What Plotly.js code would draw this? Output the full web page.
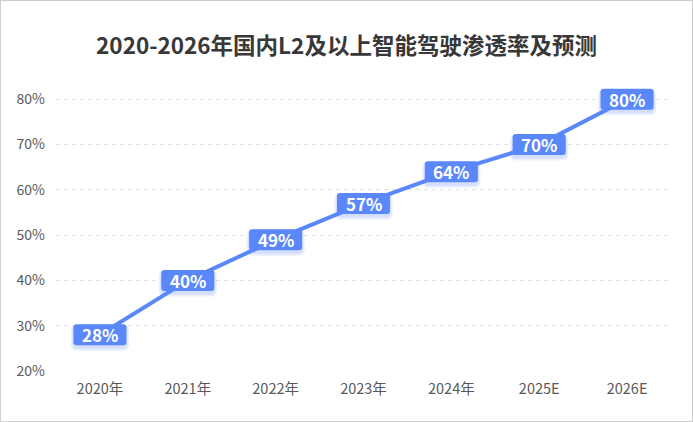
<!DOCTYPE html>
<html>
<head>
<meta charset="utf-8">
<script src="https://cdn.plot.ly/plotly-3.0.1.min.js"></script>
<style>
html,body{margin:0;padding:0;background:#fff;}
#chart{width:691px;height:420px;border:1px solid #cfcfcf;}
</style>
</head>
<body>
<div id="chart"></div>
<script>
const categories = ["2020年","2021年","2022年","2023年","2024年","2025E","2026E"];
const values = [28, 40, 49, 57, 64, 70, 80];
const yTickVals = [20, 30, 40, 50, 60, 70, 80];
const yTickText = ["20%","30%","40%","50%","60%","70%","80%"];
const titleText = "2020-2026年国内L2及以上智能驾驶渗透率及预测";

const blue = "#5a87fa";
const font = "'Noto Sans CJK SC', 'Noto Sans', sans-serif";

function roundRect(w, h, r, dy) {
  const x0 = -w/2, x1 = w/2, y0 = -h/2 + dy, y1 = h/2 + dy;
  return `M ${x0+r},${y0} L ${x1-r},${y0} Q ${x1},${y0} ${x1},${y0+r} L ${x1},${y1-r} Q ${x1},${y1} ${x1-r},${y1} L ${x0+r},${y1} Q ${x0},${y1} ${x0},${y1-r} L ${x0},${y0+r} Q ${x0},${y0} ${x0+r},${y0} Z`;
}

const shapes = [];
const annotations = [];
categories.forEach((c, i) => {
  shapes.push({type:'path', layer:'above', xref:'x', yref:'y', xsizemode:'pixel', ysizemode:'pixel',
    xanchor:c, yanchor:values[i], path: roundRect(58, 26, 6, -3),
    fillcolor:'rgba(90,135,250,0.13)', line:{width:0}});
  shapes.push({type:'path', layer:'above', xref:'x', yref:'y', xsizemode:'pixel', ysizemode:'pixel',
    xanchor:c, yanchor:values[i], path: roundRect(55, 24, 5, -2),
    fillcolor:'rgba(90,135,250,0.15)', line:{width:0}});
  shapes.push({type:'path', layer:'above', xref:'x', yref:'y', xsizemode:'pixel', ysizemode:'pixel',
    xanchor:c, yanchor:values[i], path: roundRect(53, 21, 3, 0),
    fillcolor:blue, line:{width:0}});
  annotations.push({x:c, y:values[i], xref:'x', yref:'y', text: values[i] + '%', showarrow:false,
    font:{family:font, size:17, color:'#ffffff', weight:'bold'}, xanchor:'center', yanchor:'middle'});
});

const trace = {
  x: categories, y: values, type:'scatter', mode:'lines',
  line:{color:blue, width:4}, hoverinfo:'none', cliponaxis:false
};

const layout = {
  width:691, height:420,
  margin:{l:55, r:21, t:86, b:50},
  paper_bgcolor:'#ffffff', plot_bgcolor:'#ffffff',
  showlegend:false,
  title:{text:titleText, x:0.5, xanchor:'center', y:0.893, yanchor:'middle',
    font:{family:font, size:22.5, color:'#383838', weight:'bold'}},
  xaxis:{type:'category', range:[-0.5, 6.5], showgrid:false, zeroline:false, showline:false,
    ticks:'', tickfont:{family:font, size:14.5, color:'#595959'}, ticklabelstandoff:7, fixedrange:true},
  yaxis:{range:[20, 82.7], tickvals:yTickVals, ticktext:yTickText, showgrid:true, gridcolor:'#e0e0e0',
    griddash:'4px,4px', gridwidth:1, zeroline:false, showline:false, ticks:'',
    tickfont:{family:font, size:14, color:'#595959'}, ticklabelstandoff:10, fixedrange:true},
  shapes: shapes,
  annotations: annotations
};

Plotly.newPlot('chart', [trace], layout, {displayModeBar:false, staticPlot:true});
</script>
</body>
</html>
